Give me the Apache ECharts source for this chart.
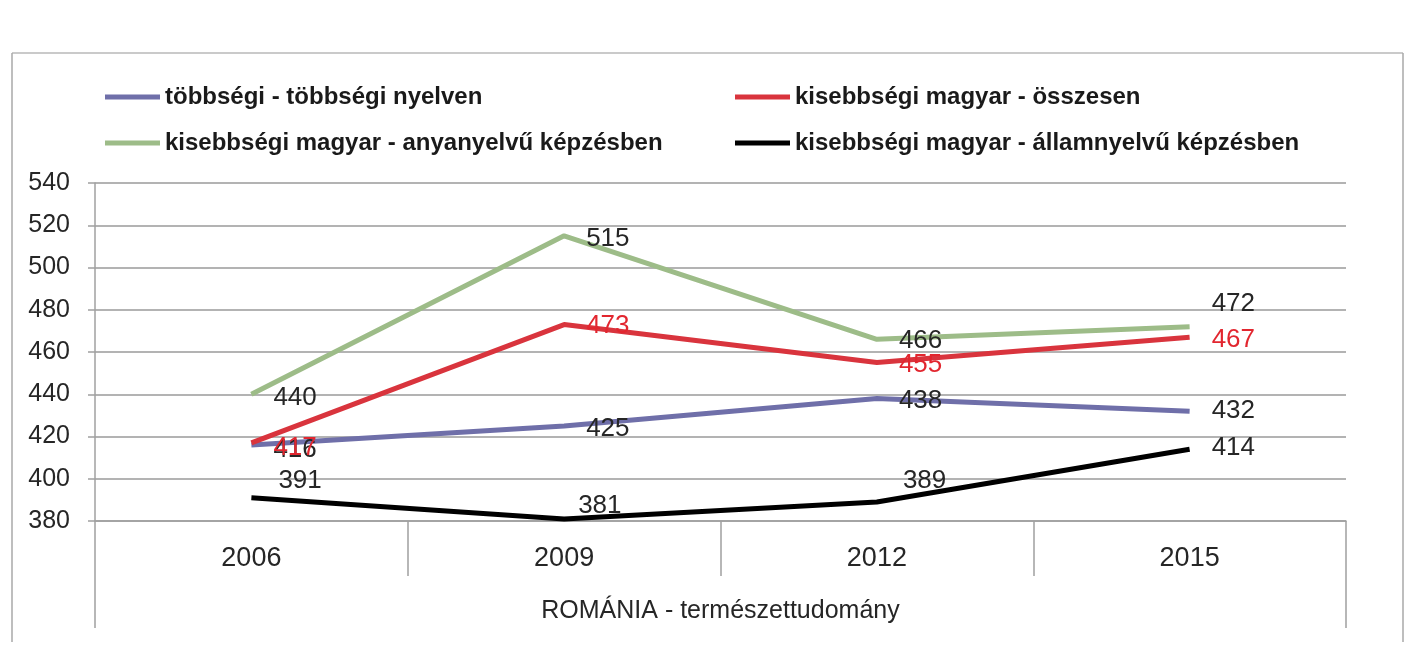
<!DOCTYPE html>
<html>
<head>
<meta charset="utf-8">
<script src="https://cdn.jsdelivr.net/npm/echarts@6/dist/echarts.min.js"></script>
<style>
html,body{margin:0;padding:0;background:#fff;}
#chart{width:1418px;height:658px;}
</style>
</head>
<body>
<div id="chart"></div>
<script>
// ---- data ----
const categories = ['2006', '2009', '2012', '2015'];
const groupLabel = ['ROMÁNIA - természettudomány'];
const seriesNames = [
  'többségi - többségi nyelven',
  'kisebbségi magyar - összesen',
  'kisebbségi magyar - anyanyelvű képzésben',
  'kisebbségi magyar - államnyelvű képzésben'
];
const majorityValues = [416, 425, 438, 432];
const totalValues = [417, 473, 455, 467];
const nativeValues = [440, 515, 466, 472];
const stateLangValues = [391, 381, 389, 414];
const yTicks = [380, 400, 420, 440, 460, 480, 500, 520, 540];

// ---- style ----
const FONT = '"Liberation Sans", Arial, sans-serif';
const colors = ['#6f6fa9', '#d9343d', '#9dbc88', '#000000'];
const labelColors = ['#262626', '#e2262f', '#262626', '#262626'];
// per-point label offsets (style only)
const labelOffsets = [
  [[0, 5], [0, 3], [0, 2], [0, 0]],
  [[0, 5], [0, 1], [0, 2], [0, 3]],
  [[0, 4], [0, 3], [0, 2], [0, -23]],
  [[5, -17], [-8, -13], [4, -21], [0, -1]]
];

const values = [majorityValues, totalValues, nativeValues, stateLangValues];

const series = values.map((vals, si) => ({
  name: seriesNames[si],
  type: 'line',
  data: vals.map((v, i) => ({
    value: v,
    label: { offset: labelOffsets[si][i] }
  })),
  symbol: 'circle',
  symbolSize: 0.01,
  showSymbol: true,
  lineStyle: { color: colors[si], width: 5 },
  itemStyle: { color: colors[si] },
  z: si === 3 ? 5 : 3,
  label: {
    show: true,
    position: 'right',
    distance: 22,
    fontFamily: FONT,
    fontSize: 26,
    color: labelColors[si]
  },
  emphasis: { disabled: true },
  animation: false
}));

const legendPos = [
  { left: 105, top: 85 },
  { left: 735, top: 85 },
  { left: 105, top: 131 },
  { left: 735, top: 131 }
];
const legends = seriesNames.map((n, i) => ({
  data: [{ name: n, icon: 'rect' }],
  left: legendPos[i].left,
  top: legendPos[i].top,
  itemWidth: 55,
  itemHeight: 5,
  selectedMode: false,
  textStyle: { fontFamily: FONT, fontSize: 24, fontWeight: 'bold', color: '#1a1a1a' },
  padding: 0
}));

const chart = echarts.init(document.getElementById('chart'), null, { renderer: 'canvas' });
chart.setOption({
  backgroundColor: '#fff',
  animation: false,
  color: colors,
  legend: legends,
  grid: { left: 95, right: 72, top: 183, bottom: 137 },
  xAxis: [
    {
      type: 'category',
      data: categories,
      boundaryGap: true,
      axisLine: { show: true, lineStyle: { color: '#a0a0a0', width: 1.5 } },
      axisTick: { show: true, interval: 0, length: 55, lineStyle: { color: '#a0a0a0', width: 1.5 } },
      axisLabel: { fontFamily: FONT, fontSize: 27, color: '#262626', margin: 24 },
      splitLine: { show: false }
    },
    {
      type: 'category',
      data: groupLabel,
      position: 'bottom',
      boundaryGap: true,
      axisLine: { show: false },
      axisTick: { show: true, length: 107, lineStyle: { color: '#a0a0a0', width: 1.5 } },
      axisLabel: { fontFamily: FONT, fontSize: 25, color: '#262626', margin: 78 },
      splitLine: { show: false }
    }
  ],
  yAxis: {
    type: 'value',
    min: yTicks[0],
    max: yTicks[yTicks.length - 1],
    interval: yTicks[1] - yTicks[0],
    axisLine: { show: true, lineStyle: { color: '#a0a0a0', width: 1.5 } },
    axisTick: { show: true, length: 7, lineStyle: { color: '#a0a0a0', width: 1.5 } },
    axisLabel: { fontFamily: FONT, fontSize: 25, color: '#262626', margin: 25 },
    splitLine: { show: true, lineStyle: { color: '#9a9a9a', width: 1.5 } }
  },
  graphic: [
    { type: 'line', shape: { x1: 12, y1: 53, x2: 1403, y2: 53 }, style: { stroke: '#b8b8b8', lineWidth: 1.5 } },
    { type: 'line', shape: { x1: 12, y1: 53, x2: 12, y2: 642 }, style: { stroke: '#a8a8a8', lineWidth: 1.5 } },
    { type: 'line', shape: { x1: 1403, y1: 53, x2: 1403, y2: 642 }, style: { stroke: '#a8a8a8', lineWidth: 1.5 } }
  ],
  series: series
});
</script>
</body>
</html>
